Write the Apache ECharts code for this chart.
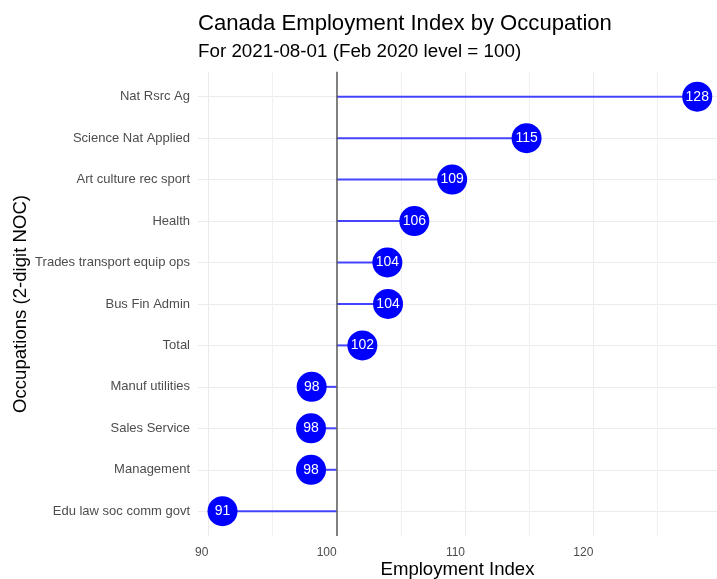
<!DOCTYPE html>
<html>
<head>
<meta charset="utf-8">
<script src="https://cdn.jsdelivr.net/npm/echarts@6/dist/echarts.min.js"></script>
<style>
html,body{margin:0;padding:0;background:#fff;}
#chart{width:717px;height:579px;}
</style>
</head>
<body>
<div id="chart"></div>
<script>
// ---- data ----
const categories = [
  'Nat Rsrc Ag',
  'Science Nat Applied',
  'Art culture rec sport',
  'Health',
  'Trades transport equip ops',
  'Bus Fin Admin',
  'Total',
  'Manuf utilities',
  'Sales Service',
  'Management',
  'Edu law soc comm govt'
];
const indexValues = [128.1, 114.8, 109.0, 106.05, 103.95, 104.0, 102.0, 98.05, 98.0, 98.0, 91.1];
const baseline = 100;
const xTickLabels = [90, 100, 110, 120];
const titleText = 'Canada Employment Index by Occupation';
const subtitleText = 'For 2021-08-01 (Feb 2020 level = 100)';
const xAxisTitle = 'Employment Index';
const yAxisTitle = 'Occupations (2-digit NOC)';

const FONT = "'Liberation Sans', Arial, sans-serif";
const pts = indexValues.map((v, i) => [v, i]);

const chart = echarts.init(document.getElementById('chart'), null, {renderer: 'canvas'});
const T = 'rgba(0,0,0,0)';
const MAJ = '#ebebeb', MIN = '#f1f1f1';

chart.setOption({
  animation: false,
  backgroundColor: '#ffffff',
  title: [
    {text: titleText, left: 198, top: 13, padding: 0,
     textStyle: {fontFamily: FONT, fontSize: 22.1, fontWeight: 'normal', color: '#000'}},
    {text: subtitleText, left: 198, top: 42, padding: 0,
     textStyle: {fontFamily: FONT, fontSize: 18.8, fontWeight: 'normal', color: '#000'}}
  ],
  grid: {left: 198, right: 0, top: 71.8, bottom: 42.9, containLabel: false, outerBoundsMode: 'none'},
  xAxis: {
    type: 'value', min: 89.19, max: 129.64, minInterval: 5, maxInterval: 5,
    name: xAxisTitle, nameLocation: 'middle', nameGap: 24, nameMoveOverlap: false,
    nameTextStyle: {fontFamily: FONT, fontSize: 18.6, color: '#000'},
    axisLine: {show: false}, axisTick: {show: false},
    axisLabel: {
      fontFamily: FONT, fontSize: 12, color: '#4d4d4d', margin: 11, align: 'right',
      formatter: v => xTickLabels.some(t => Math.abs(t - v) < 1e-6) ? String(Math.round(v)) : ''
    },
    splitLine: {show: true, lineStyle: {width: 1, color: [T, MAJ, MIN, MAJ, MIN, MAJ, MIN, MAJ, MIN, T]}}
  },
  yAxis: {
    type: 'value', min: -0.6, max: 10.6, inverse: true, minInterval: 1, maxInterval: 1,
    name: yAxisTitle, nameLocation: 'middle', nameGap: 168, nameRotate: 90, nameMoveOverlap: false,
    nameTextStyle: {fontFamily: FONT, fontSize: 18.6, color: '#000'},
    axisLine: {show: false}, axisTick: {show: false},
    axisLabel: {
      fontFamily: FONT, fontSize: 13, color: '#4d4d4d', margin: 8,
      formatter: v => {
        const r = Math.round(v);
        return (Math.abs(v - r) < 1e-6 && r >= 0 && r < categories.length) ? categories[r] : '';
      }
    },
    splitLine: {show: true, lineStyle: {width: 1,
      color: [T, MAJ, MAJ, MAJ, MAJ, MAJ, MAJ, MAJ, MAJ, MAJ, MAJ, MAJ, T]}}
  },
  series: [
    {
      type: 'custom',
      data: pts,
      z: 2,
      renderItem: (params, api) => {
        const y = api.value(1);
        const s = api.coord([baseline, y]);
        const e = api.coord([api.value(0), y]);
        return {type: 'line', shape: {x1: s[0], y1: s[1], x2: e[0], y2: e[1]},
                style: {stroke: '#4444ff', lineWidth: 2}};
      },
      markLine: {
        silent: true, symbol: 'none', label: {show: false},
        lineStyle: {color: '#5a5a5a', width: 1.5, type: 'solid'},
        data: [{xAxis: baseline}]
      }
    },
    {
      type: 'scatter',
      data: pts,
      z: 3,
      symbol: 'circle',
      symbolSize: 30,
      itemStyle: {color: '#0000ff', opacity: 1},
      label: {show: true, position: 'inside', color: '#ffffff', fontFamily: FONT, fontSize: 14,
              formatter: p => String(Math.round(p.value[0]))}
    }
  ]
});
</script>
</body>
</html>
